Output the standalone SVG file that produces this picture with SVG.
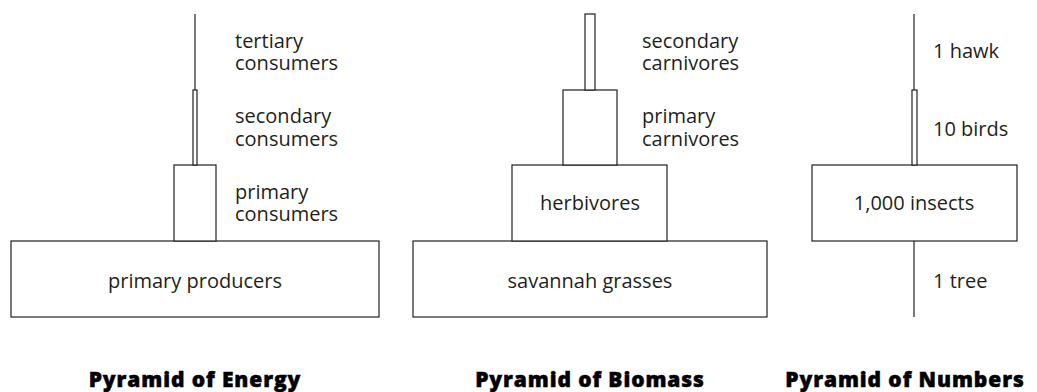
<svg xmlns="http://www.w3.org/2000/svg" width="1037" height="392" viewBox="0 0 1037 392">
<style>
.s{fill:#fff;stroke:#231f20;stroke-width:1.2}
text{font-family:"Open Sans","Noto Sans","Liberation Sans",sans-serif;font-size:20px;fill:#231f20}
.c{text-anchor:middle}
.t{font-family:"Open Sans","Noto Sans","Liberation Sans",sans-serif;font-weight:800;font-size:21px;letter-spacing:0.9px;text-anchor:middle;fill:#000;stroke:#000;stroke-width:0.5px}
</style>
<rect width="1037" height="392" fill="#fff"/>
<g id="energy">
<g id="energy-producers"><rect class="s" x="11" y="241" width="368" height="76"/><text class="c" x="195" y="288">primary producers</text></g>
<g id="energy-primary"><rect class="s" x="174" y="165" width="42" height="76"/><text x="235" y="199">primary<tspan x="235" dy="22">consumers</tspan></text></g>
<g id="energy-secondary"><rect class="s" x="193" y="90" width="4" height="75"/><text x="235" y="123">secondary<tspan x="235" dy="23">consumers</tspan></text></g>
<g id="energy-tertiary"><line class="s" x1="195" y1="14" x2="195" y2="90"/><text x="235" y="48">tertiary<tspan x="235" dy="22">consumers</tspan></text></g>
<text class="t" x="195" y="387">Pyramid of Energy</text>
</g>
<g id="biomass">
<g id="biomass-grasses"><rect class="s" x="413" y="241" width="354" height="76"/><text class="c" x="590" y="288">savannah grasses</text></g>
<g id="biomass-herbivores"><rect class="s" x="512" y="165" width="155" height="76"/><text class="c" x="590" y="210">herbivores</text></g>
<g id="biomass-primary"><rect class="s" x="563" y="90" width="54" height="75"/><text x="642" y="123">primary<tspan x="642" dy="23">carnivores</tspan></text></g>
<g id="biomass-secondary"><rect class="s" x="585" y="14" width="10" height="76"/><text x="642" y="48">secondary<tspan x="642" dy="22">carnivores</tspan></text></g>
<text class="t" x="590" y="387">Pyramid of Biomass</text>
</g>
<g id="numbers">
<g id="numbers-tree"><line class="s" x1="914" y1="241" x2="914" y2="317"/><text x="933" y="288">1 tree</text></g>
<g id="numbers-insects"><rect class="s" x="812" y="165" width="205" height="76"/><text class="c" x="914" y="210">1,000 insects</text></g>
<g id="numbers-birds"><rect class="s" x="912" y="90" width="5" height="75"/><text x="933" y="136">10 birds</text></g>
<g id="numbers-hawk"><line class="s" x1="914" y1="14" x2="914" y2="90"/><text x="933" y="58">1 hawk</text></g>
<text class="t" x="905" y="387">Pyramid of Numbers</text>
</g>
</svg>
